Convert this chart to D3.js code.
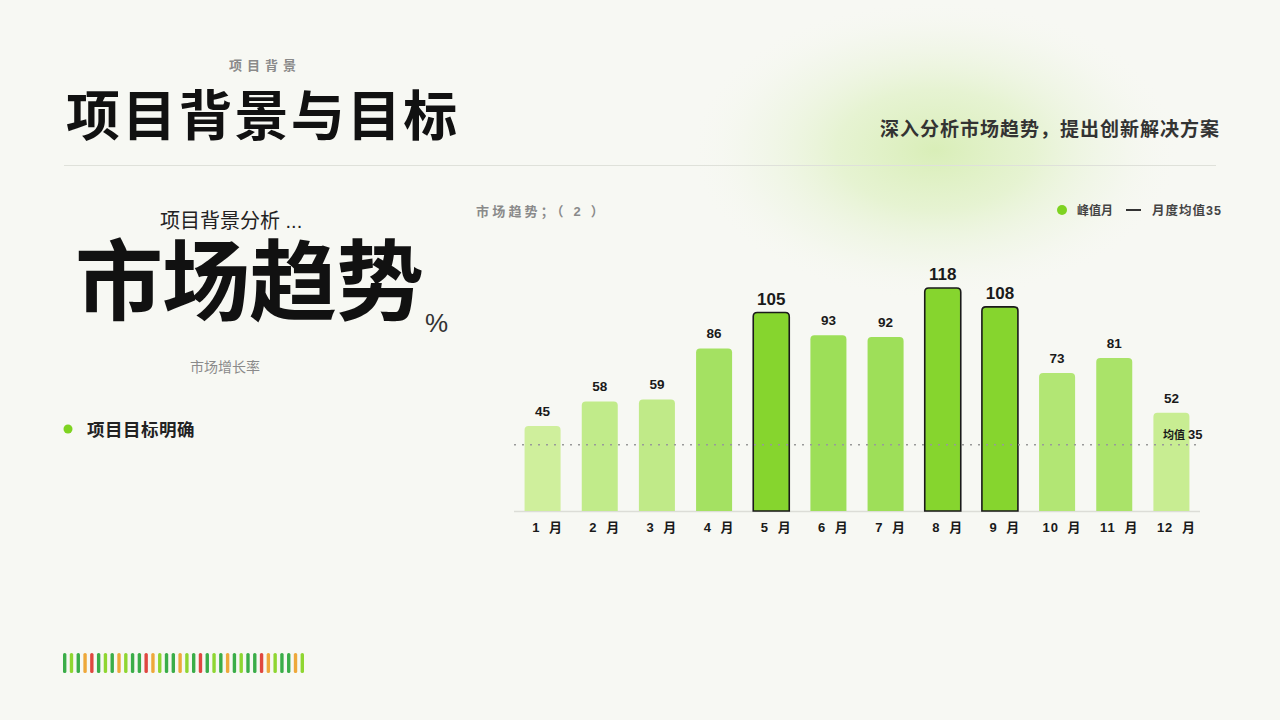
<!DOCTYPE html>
<html><head><meta charset="utf-8">
<script src="https://cdn.jsdelivr.net/npm/d3@7/dist/d3.min.js"></script>
<style>
html,body{margin:0;padding:0;background:#f7f8f3;}
svg{display:block;font-family:"Liberation Sans","Noto Sans CJK SC",sans-serif;}
</style></head>
<body><svg id="c" width="1280" height="720"></svg>
<script>
const months = ["1 月","2 月","3 月","4 月","5 月","6 月","7 月","8 月","9 月","10 月","11 月","12 月"];
const values = [45,58,59,86,105,93,92,118,108,73,81,52];
const peakMonths = ["5 月","8 月","9 月"];
const average = 35;
const stripColors = ["g","l","g","o","r","g","l","g","o","l","g","g","r","o","l","g","g","o","l","g","r","g","l","g","o","g","l","g","g","r","o","l","g","g","o","l"];
const stripPalette = {g:"#3aad48", l:"#8fd631", o:"#eea83a", r:"#e0473f"};

const svg = d3.select("#c");
const defs = svg.append("defs");
const rg = defs.append("radialGradient").attr("id","glow");
rg.append("stop").attr("offset","0%").attr("stop-color","#d9eeb8").attr("stop-opacity",1);
rg.append("stop").attr("offset","40%").attr("stop-color","#e3f2cc").attr("stop-opacity",0.85);
rg.append("stop").attr("offset","75%").attr("stop-color","#eef5e3").attr("stop-opacity",0.45);
rg.append("stop").attr("offset","100%").attr("stop-color","#f7f8f3").attr("stop-opacity",0);
svg.append("rect").attr("width",1280).attr("height",720).attr("fill","#f7f8f3");
svg.append("ellipse").attr("cx",935).attr("cy",150).attr("rx",245).attr("ry",150).attr("fill","url(#glow)");

// header
svg.append("text").attr("x",265).attr("y",70).attr("text-anchor","middle")
  .attr("font-size",13).attr("font-weight",700).attr("fill","#8a8a8a").attr("letter-spacing",5).text("项目背景");
svg.append("text").attr("x",66).attr("y",136).attr("font-size",54).attr("font-weight",700)
  .attr("fill","#111").attr("letter-spacing",2.2).text("项目背景与目标");
svg.append("text").attr("x",1220).attr("y",136).attr("text-anchor","end").attr("font-size",19)
  .attr("font-weight",700).attr("fill","#333").attr("letter-spacing",1).text("深入分析市场趋势，提出创新解决方案");
svg.append("line").attr("x1",64).attr("x2",1216).attr("y1",165.5).attr("y2",165.5).attr("stroke","#dfe1da").attr("stroke-width",1);

// left block
svg.append("text").attr("x",160).attr("y",228).attr("font-size",20).attr("fill","#222").text("项目背景分析 ...");
svg.append("text").attr("x",75).attr("y",313).attr("font-size",88).attr("font-weight",700)
  .attr("letter-spacing",-1).attr("fill","#111").text("市场趋势");
svg.append("text").attr("x",425).attr("y",332).attr("font-size",26).attr("fill","#333").text("%");
svg.append("text").attr("x",225).attr("y",372).attr("text-anchor","middle").attr("font-size",14).attr("fill","#8a8a8a").text("市场增长率");
svg.append("circle").attr("cx",68).attr("cy",429).attr("r",4.5).attr("fill","#7ed321");
svg.append("text").attr("x",87).attr("y",436).attr("font-size",17.5).attr("font-weight",700)
  .attr("letter-spacing",0.5).attr("fill","#222").text("项目目标明确");

// strip
const sx = d3.scaleBand().domain(d3.range(stripColors.length)).range([63,304]).paddingInner(0.5);
svg.append("g").selectAll("rect").data(stripColors).join("rect")
  .attr("x",(d,i)=>sx(i)).attr("y",653).attr("width",sx.bandwidth()).attr("height",20).attr("rx",1.6)
  .attr("fill",d=>stripPalette[d]);

// chart
svg.append("text").attr("x",476).attr("y",216).attr("font-size",13).attr("font-weight",700)
  .attr("fill","#8a8a8a").attr("letter-spacing",3.2).text("市场趋势；（ 2 ）");
svg.append("circle").attr("cx",1062).attr("cy",210).attr("r",5).attr("fill","#7ed321");
svg.append("text").attr("x",1077).attr("y",215).attr("font-size",12).attr("font-weight",700).attr("fill","#444").text("峰值月");
svg.append("line").attr("x1",1126).attr("x2",1141).attr("y1",210).attr("y2",210).attr("stroke","#333").attr("stroke-width",2);
svg.append("text").attr("x",1152).attr("y",215).attr("font-size",12.5).attr("font-weight",700).attr("fill","#444")
  .attr("letter-spacing",1).text("月度均值35");

const x = d3.scaleBand().domain(months).range([514,1200]).paddingInner(0.37).paddingOuter(0.185);
const y = d3.scaleLinear().domain([0,120]).range([511,284.2]);
const col = d3.scaleLinear().domain([45,93]).range(["#cfef9c","#9ddf58"]);
const data = months.map((m,i)=>({m, v:values[i], peak: peakMonths.includes(m)}));

svg.append("line").attr("x1",514).attr("x2",1200).attr("y1",y(0)+0.5).attr("y2",y(0)+0.5).attr("stroke","#dcddd7").attr("stroke-width",1.5);

const g = svg.append("g");
g.selectAll("path.bar").data(data).join("path").attr("class","bar")
  .attr("d",d=>{
    const x0=x(d.m), w=x.bandwidth(), t=y(d.v), b=y(0), r=4;
    return `M${x0},${b}L${x0},${t+r}Q${x0},${t} ${x0+r},${t}L${x0+w-r},${t}Q${x0+w},${t} ${x0+w},${t+r}L${x0+w},${b}Z`;
  })
  .attr("fill",d=>d.peak?"#86d52e":col(d.v))
  .attr("stroke",d=>d.peak?"#1a1a1a":"none").attr("stroke-width",1.6);

svg.append("line").attr("x1",514).attr("x2",1200).attr("y1",y(average)).attr("y2",y(average))
  .attr("stroke","#999").attr("stroke-width",1.5).attr("stroke-dasharray","2 6");

g.selectAll("text.val").data(data).join("text").attr("class","val")
  .attr("x",d=>x(d.m)+x.bandwidth()/2).attr("y",d=>y(d.v)-(d.peak?8:10))
  .attr("text-anchor","middle").attr("font-size",d=>d.peak?17:13.5).attr("font-weight",700)
  .attr("fill","#1a1a1a").text(d=>d.v);

const xa = svg.append("g").attr("transform",`translate(0,${y(0)})`)
  .call(d3.axisBottom(x).tickSize(0).tickPadding(12));
xa.select(".domain").remove();
xa.selectAll("text").attr("font-size",13).attr("font-weight",700).attr("fill","#1a1a1a")
  .attr("letter-spacing",1).attr("word-spacing",4).attr("dx",5)
  .attr("font-family","'Liberation Sans','Noto Sans CJK SC',sans-serif");

const avgT = svg.append("text").attr("x",1163).attr("y",y(average)-6).attr("font-weight",700).attr("fill","#1a1a1a");
avgT.append("tspan").attr("font-size",11).text("均值 ");
avgT.append("tspan").attr("font-size",13).text(average);
</script></body></html>
